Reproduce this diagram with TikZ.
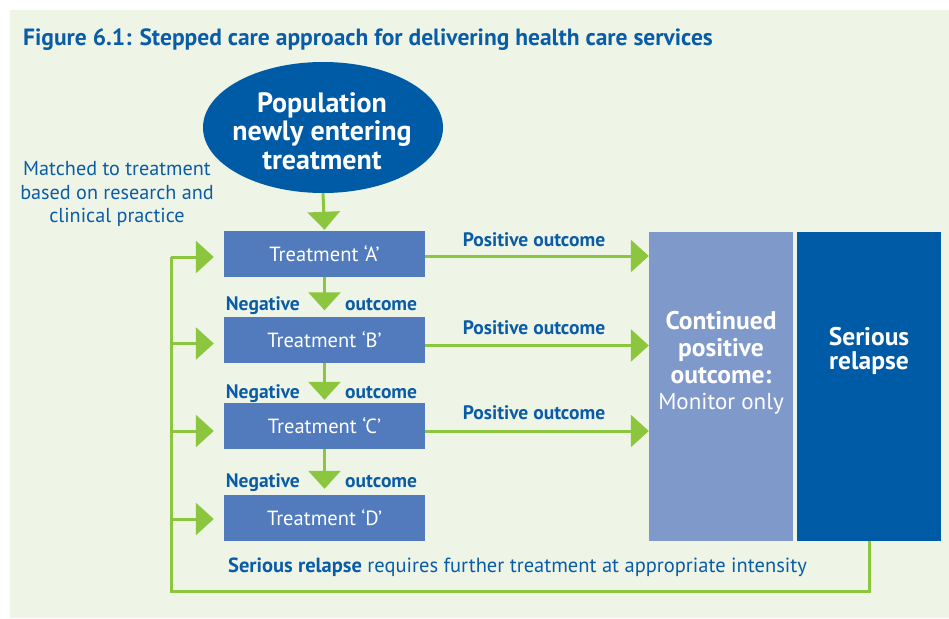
\documentclass[tikz,border=0pt]{standalone}
\usepackage{fontspec}
\setmainfont{PT Sans}
\usetikzlibrary{shapes.geometric,arrows.meta,calc}
\definecolor{bgc}{HTML}{EEF5E6}
\definecolor{dblue}{HTML}{005BA6}
\definecolor{tblue}{HTML}{0B5CA6}
\definecolor{boxblue}{HTML}{527BBD}
\definecolor{contblue}{HTML}{7F99CB}
\definecolor{lgreen}{HTML}{8CC63F}
\tikzset{
  tbox/.style={rectangle, fill=boxblue, minimum width=201pt, minimum height=46pt, inner sep=0pt, text=white, font=\fontsize{20.5}{24}\selectfont},
  bigbox/.style={rectangle, minimum width=144pt, minimum height=309pt, inner sep=0pt},
  gline/.style={draw=lgreen, line width=3pt},
  garrow/.style={gline, -{Triangle[width=32pt,length=18pt]}},
  lbl/.style={text=tblue, font=\bfseries\fontsize{19.5}{22}\selectfont, inner sep=0pt},
  wtext/.style={text=white, inner sep=0pt, align=center},
}
\begin{document}
\begin{tikzpicture}[x=1pt,y=-1pt]
\useasboundingbox (0,0) rectangle (949,618);
\fill[bgc] (10,10) rectangle (949,618);
% title
\node[anchor=west, text=tblue, inner sep=0pt, font=\bfseries\fontsize{23.5}{26}\selectfont] (title) at (23,40) {Figure 6.1: Stepped care approach for delivering health care services};
% population ellipse
\node[ellipse, fill=dblue, minimum width=240pt, minimum height=131pt, inner sep=0pt] (pop) at (323,127.5) {};
\node[wtext, font=\bfseries\fontsize{28}{28.5}\selectfont] (poptext) at (322,131) {Population\\newly entering\\treatment};
% matched text
\node[text=tblue, inner sep=0pt, align=center, font=\fontsize{20.2}{23.5}\selectfont] (matched) at (117,194) {Matched to treatment\\based on research and\\clinical practice};
% treatment boxes
\node[tbox] (A) at (324.5,254) {Treatment ‘A’};
\node[tbox] (B) at (324.5,339.5) {Treatment ‘B’};
\node[tbox] (C) at (324.5,426) {Treatment ‘C’};
\node[tbox] (D) at (324.5,518) {Treatment ‘D’};
% big boxes
\node[bigbox, fill=contblue] (cont) at (721,386.5) {};
\node[bigbox, fill=dblue] (relapse) at (869,386.5) {};
\node[wtext, font=\fontsize{25.5}{26.7}\selectfont] (conttext) at (721,363) {\textbf{Continued}\\\textbf{positive}\\\textbf{outcome:}\\{\fontsize{23}{26.7}\selectfont Monitor only}};
\node[wtext, font=\bfseries\fontsize{25.5}{24}\selectfont] (reltext) at (869,351) {Serious\\relapse};
% arrows down
\draw[garrow] (pop.south) -- ([yshift=1pt]A.north);
\draw[garrow] (A.south) -- ([yshift=6pt]B.north);
\draw[garrow] (B.south) -- ([yshift=3pt]C.north);
\draw[garrow] (C.south) -- ([yshift=6pt]D.north);
% negative outcome labels
\node[lbl, anchor=base east] (negAB) at (300,310) {Negative};
\node[lbl, anchor=base west] (outAB) at (345,310) {outcome};
\node[lbl, anchor=base east] (negBC) at (300,398) {Negative};
\node[lbl, anchor=base west] (outBC) at (345,398) {outcome};
\node[lbl, anchor=base east] (negCD) at (300,487) {Negative};
\node[lbl, anchor=base west] (outCD) at (345,487) {outcome};
% positive outcome arrows
\draw[garrow] ([yshift=-2pt]A.east) -- ([yshift=-2pt]A.east -| cont.west);
\draw[garrow] ([yshift=-6pt]B.east) -- ([yshift=-6pt]B.east -| cont.west);
\draw[garrow] ([yshift=-5pt]C.east) -- ([yshift=-5pt]C.east -| cont.west);
\node[lbl] (posA) at (534,240) {Positive outcome};
\node[lbl] (posB) at (534,328) {Positive outcome};
\node[lbl] (posC) at (534,413) {Positive outcome};
% feedback loop
\coordinate (loopcorner) at (171,591);
\coordinate (looptop) at (171,257);
\draw[gline] (relapse.south) |- (loopcorner) -- (looptop);
\draw[garrow] ([yshift=-3pt]A.west -| looptop) -- ([xshift=-10pt,yshift=-3pt]A.west);
\draw[garrow] ([yshift=-4pt]B.west -| looptop) -- ([xshift=-10pt,yshift=-4pt]B.west);
\draw[garrow] ([yshift=-5pt]C.west -| looptop) -- ([xshift=-10pt,yshift=-5pt]C.west);
\draw[garrow] ([yshift=-1pt]D.west -| looptop) -- ([xshift=-10pt,yshift=-1pt]D.west);
% bottom text
\node[anchor=west, text=tblue, inner sep=0pt, font=\fontsize{20.5}{23}\selectfont] (bottom) at (228,567) {\textbf{Serious relapse} requires further treatment at appropriate intensity};
\end{tikzpicture}
\end{document}
